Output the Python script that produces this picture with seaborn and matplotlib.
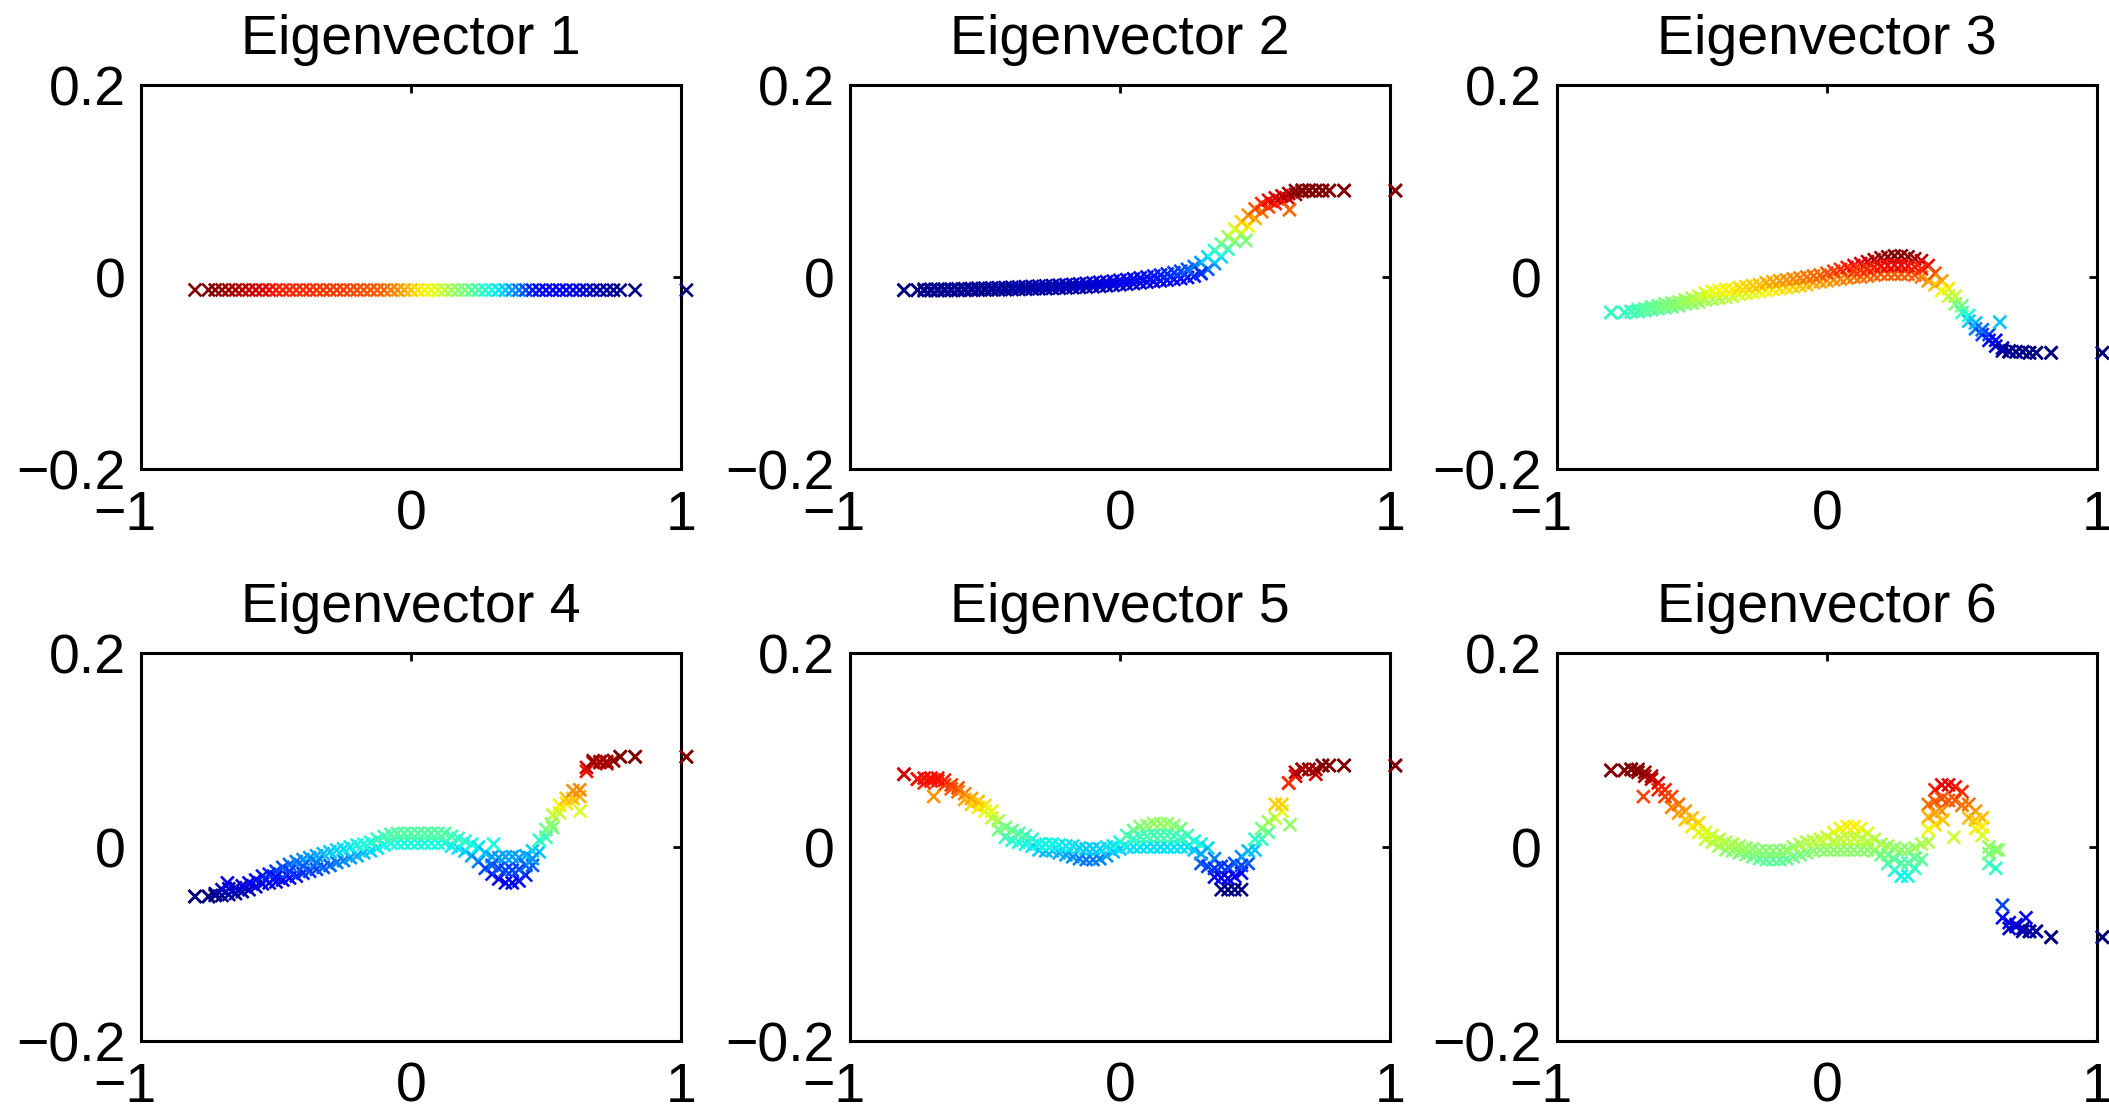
import matplotlib
matplotlib.use("Agg")
import matplotlib.pyplot as plt
import matplotlib.transforms as mtransforms
import pandas as pd
import seaborn as sns

# Sample positions along the first coordinate (shared by all six panels)
sample_x = [
    -0.80, -0.75, -0.725, -0.70, -0.675, -0.65, -0.625, -0.60, -0.575, -0.55,
    -0.525, -0.50, -0.475, -0.45, -0.425, -0.40, -0.375, -0.35, -0.325, -0.30,
    -0.275, -0.25, -0.225, -0.20, -0.175, -0.15, -0.125, -0.10, -0.075, -0.05,
    -0.025, 0.00, 0.025, 0.05, 0.075, 0.10, 0.125, 0.15, 0.175, 0.20,
    0.225, 0.25, 0.275, 0.30, 0.325, 0.35, 0.375, 0.40, 0.425, 0.45,
    0.475, 0.50, 0.525, 0.55, 0.575, 0.60, 0.625, 0.65, 0.675, 0.70,
    0.725, 0.75, 0.775, 0.83, 1.02,
]

# Eigenvector 1: almost constant
ev1 = [
    -0.013500, -0.013500, -0.013502, -0.013504, -0.013506, -0.013508, -0.013510, -0.013512, -0.013514, -0.013516,
    -0.013520, -0.013524, -0.013526, -0.013526, -0.013528, -0.013528, -0.013528, -0.013530, -0.013530, -0.013530,
    -0.013532, -0.013532, -0.013534, -0.013534, -0.013536, -0.013536, -0.013538, -0.013540, -0.013544, -0.013548,
    -0.013554, -0.013560, -0.013566, -0.013570, -0.013574, -0.013576, -0.013584, -0.013590, -0.013596, -0.013600,
    -0.013608, -0.013614, -0.013620, -0.013624, -0.013630, -0.013636, -0.013644, -0.013650, -0.013660, -0.013670,
    -0.013674, -0.013676, -0.013678, -0.013678, -0.013680, -0.013682, -0.013684, -0.013686, -0.013690, -0.013692,
    -0.013694, -0.013696, -0.013698, -0.013700, -0.013700,
]

# Eigenvector 2: lower / upper edge of the point band
ev2_lo = [
    -0.0137, -0.0137, -0.0142, -0.0142, -0.0142, -0.0142, -0.0141, -0.0140, -0.0139, -0.0138,
    -0.0137, -0.0136, -0.0135, -0.0134, -0.0133, -0.0131, -0.0129, -0.0127, -0.0125, -0.0123,
    -0.0121, -0.0119, -0.0117, -0.0114, -0.0111, -0.0108, -0.0105, -0.0101, -0.0097, -0.0092,
    -0.0087, -0.0081, -0.0075, -0.0068, -0.0061, -0.0054, -0.0047, -0.0040, -0.0033, -0.0025,
    -0.0016, -0.0005, 0.0010, 0.0035, 0.0080, 0.0140, 0.0210, 0.0290, 0.0370, 0.0450,
    0.0530, 0.0610, 0.0680, 0.0730, 0.0765, 0.0790, 0.0815, 0.0860, 0.0890, 0.0895,
    0.0900, 0.0900, 0.0900, 0.0900, 0.0900,
]
ev2_hi = [
    -0.0137, -0.0137, -0.0128, -0.0128, -0.0127, -0.0126, -0.0125, -0.0124, -0.0122, -0.0120,
    -0.0118, -0.0116, -0.0114, -0.0112, -0.0110, -0.0107, -0.0104, -0.0101, -0.0098, -0.0095,
    -0.0092, -0.0089, -0.0085, -0.0081, -0.0077, -0.0072, -0.0067, -0.0061, -0.0055, -0.0049,
    -0.0042, -0.0035, -0.0027, -0.0019, -0.0010, 0.0000, 0.0010, 0.0020, 0.0032, 0.0045,
    0.0060, 0.0080, 0.0110, 0.0150, 0.0210, 0.0275, 0.0345, 0.0420, 0.0500, 0.0575,
    0.0645, 0.0710, 0.0765, 0.0800, 0.0825, 0.0845, 0.0870, 0.0900, 0.0905, 0.0905,
    0.0900, 0.0900, 0.0900, 0.0900, 0.0900,
]
ev2_extra_x = [0.628, 0.466, 0.300]
ev2_extra_y = [0.070, 0.038, 0.004]

# Eigenvector 3
ev3_lo = [
    -0.037, -0.037, -0.036, -0.036, -0.035, -0.034, -0.033, -0.032, -0.031, -0.030,
    -0.028, -0.027, -0.026, -0.024, -0.023, -0.022, -0.021, -0.020, -0.018, -0.017,
    -0.016, -0.015, -0.014, -0.013, -0.012, -0.011, -0.010, -0.009, -0.008, -0.006,
    -0.005, -0.004, -0.003, -0.002, -0.001, 0.000, 0.000, 0.001, 0.002, 0.003,
    0.003, 0.003, 0.003, 0.003, 0.002, 0.000, -0.004, -0.008, -0.014, -0.020,
    -0.028, -0.037, -0.046, -0.054, -0.060, -0.066, -0.072, -0.077, -0.078, -0.078,
    -0.078, -0.079, -0.079, -0.079, -0.079,
]
ev3_hi = [
    -0.037, -0.037, -0.036, -0.034, -0.033, -0.031, -0.030, -0.028, -0.027, -0.026,
    -0.024, -0.022, -0.020, -0.017, -0.015, -0.014, -0.013, -0.013, -0.011, -0.010,
    -0.009, -0.008, -0.006, -0.005, -0.004, -0.003, -0.002, -0.001, 0.000, 0.001,
    0.002, 0.004, 0.006, 0.008, 0.010, 0.012, 0.014, 0.016, 0.018, 0.020,
    0.021, 0.022, 0.022, 0.021, 0.019, 0.017, 0.012, 0.004, -0.004, -0.012,
    -0.020, -0.030, -0.040, -0.048, -0.055, -0.060, -0.066, -0.074, -0.077, -0.078,
    -0.078, -0.079, -0.079, -0.079, -0.079,
]
ev3_extra_x = [0.10, 0.125, 0.15, 0.175, 0.20, 0.225, 0.25, 0.275, 0.30, 0.325, 0.35, 0.64]
ev3_extra_y = [0.006, 0.007, 0.0085, 0.010, 0.0115, 0.012, 0.0125, 0.0125, 0.0115, 0.0105, 0.0085, -0.047]

# Eigenvector 4
ev4_lo = [
    -0.051, -0.051, -0.050, -0.050, -0.049, -0.048, -0.046, -0.044, -0.041, -0.038,
    -0.037, -0.036, -0.034, -0.032, -0.030, -0.027, -0.025, -0.023, -0.021, -0.019,
    -0.016, -0.014, -0.011, -0.009, -0.006, -0.004, -0.001, 0.002, 0.004, 0.004,
    0.004, 0.004, 0.004, 0.004, 0.004, 0.004, 0.004, 0.001, -0.001, -0.004,
    -0.009, -0.015, -0.022, -0.028, -0.033, -0.037, -0.037, -0.035, -0.029, -0.019,
    -0.005, 0.010, 0.020, 0.035, 0.045, 0.050, 0.052, 0.078, 0.087, 0.087,
    0.086, 0.089, 0.093, 0.093, 0.093,
]
ev4_hi = [
    -0.051, -0.051, -0.048, -0.044, -0.043, -0.042, -0.040, -0.037, -0.034, -0.030,
    -0.028, -0.025, -0.021, -0.018, -0.015, -0.013, -0.011, -0.009, -0.007, -0.005,
    -0.003, -0.002, 0.000, 0.002, 0.003, 0.005, 0.008, 0.011, 0.013, 0.014,
    0.014, 0.014, 0.014, 0.014, 0.014, 0.014, 0.014, 0.011, 0.009, 0.006,
    0.003, 0.000, -0.006, -0.010, -0.011, -0.010, -0.010, -0.011, -0.009, -0.004,
    0.007, 0.018, 0.033, 0.043, 0.050, 0.058, 0.059, 0.082, 0.089, 0.088,
    0.088, 0.089, 0.093, 0.093, 0.093,
]
ev4_extra_x = [-0.68, -0.50, -0.45, -0.40, -0.35, 0.30, 0.325, 0.35, 0.375, 0.40, 0.425, 0.45, 0.306, 0.52, 0.626]
ev4_extra_y = [-0.037, -0.031, -0.025, -0.020, -0.016, -0.019, -0.022, -0.024, -0.024, -0.023, -0.019, -0.012, 0.003, 0.024, 0.037]

# Eigenvector 5
ev5_lo = [
    0.075, 0.070, 0.066, 0.068, 0.068, 0.064, 0.060, 0.057, 0.049, 0.044,
    0.041, 0.037, 0.030, 0.018, 0.010, 0.007, 0.005, 0.003, 0.001, -0.003,
    -0.004, -0.004, -0.006, -0.008, -0.010, -0.012, -0.013, -0.013, -0.012, -0.009,
    -0.005, -0.002, 0.000, 0.000, 0.000, 0.000, 0.000, 0.000, 0.000, 0.000,
    0.000, 0.000, -0.003, -0.017, -0.020, -0.031, -0.044, -0.044, -0.044, -0.044,
    -0.017, -0.003, 0.008, 0.015, 0.030, 0.037, 0.066, 0.073, 0.080, 0.080,
    0.075, 0.084, 0.084, 0.084, 0.084,
]
ev5_hi = [
    0.075, 0.070, 0.071, 0.071, 0.071, 0.069, 0.064, 0.061, 0.055, 0.050,
    0.047, 0.043, 0.037, 0.027, 0.020, 0.017, 0.014, 0.012, 0.008, 0.003,
    0.003, 0.003, 0.002, 0.001, 0.001, -0.001, -0.002, -0.002, -0.002, 0.000,
    0.001, 0.005, 0.012, 0.017, 0.021, 0.022, 0.024, 0.024, 0.024, 0.022,
    0.019, 0.012, 0.006, 0.003, -0.001, -0.012, -0.020, -0.021, -0.017, -0.010,
    -0.004, 0.008, 0.019, 0.026, 0.044, 0.044, 0.066, 0.077, 0.080, 0.080,
    0.080, 0.084, 0.084, 0.084, 0.084,
]
ev5_extra_x = [-0.69, 0.05, 0.075, 0.10, 0.125, 0.15, 0.175, 0.20, 0.225, 0.30, 0.35, 0.375, 0.40, 0.425, 0.45, 0.45, 0.63]
ev5_extra_y = [0.052, 0.0085, 0.0105, 0.011, 0.012, 0.012, 0.012, 0.011, 0.0095, -0.007, -0.022, -0.032, -0.0325, -0.0305, -0.027, -0.019, 0.023]

# Eigenvector 6
ev6_lo = [
    0.079, 0.079, 0.080, 0.077, 0.073, 0.070, 0.059, 0.052, 0.041, 0.035,
    0.028, 0.021, 0.015, 0.008, 0.005, 0.001, -0.003, -0.004, -0.006, -0.008,
    -0.010, -0.012, -0.013, -0.013, -0.013, -0.012, -0.010, -0.008, -0.006, -0.004,
    -0.003, -0.003, -0.003, -0.003, -0.003, -0.003, -0.003, -0.003, -0.004, -0.008,
    -0.017, -0.024, -0.030, -0.030, -0.022, -0.013, 0.005, 0.023, 0.037, 0.048,
    0.048, 0.043, 0.030, 0.019, 0.012, -0.017, -0.022, -0.073, -0.084, -0.082,
    -0.087, -0.087, -0.087, -0.093, -0.093,
]
ev6_hi = [
    0.079, 0.079, 0.080, 0.080, 0.077, 0.073, 0.066, 0.059, 0.052, 0.044,
    0.037, 0.030, 0.025, 0.015, 0.012, 0.008, 0.005, 0.003, 0.001, -0.001,
    -0.002, -0.004, -0.004, -0.004, -0.004, -0.003, 0.000, 0.003, 0.005, 0.006,
    0.008, 0.010, 0.015, 0.019, 0.021, 0.021, 0.019, 0.014, 0.008, 0.003,
    0.001, -0.001, -0.003, -0.003, -0.001, 0.003, 0.044, 0.059, 0.064, 0.064,
    0.062, 0.057, 0.044, 0.037, 0.030, 0.000, -0.003, -0.060, -0.078, -0.080,
    -0.084, -0.087, -0.087, -0.093, -0.093,
]
ev6_extra_x = [-0.68, 0.025, 0.05, 0.075, 0.10, 0.125, 0.15, 0.225, 0.25, 0.275, 0.30, 0.325,
               0.375, 0.375, 0.40, 0.40, 0.425, 0.43, 0.47, 0.55, 0.575, 0.60, 0.635, 0.737]
ev6_extra_y = [0.052, 0.006, 0.008, 0.009, 0.009, 0.008, 0.0055, -0.008, -0.0125, -0.0165, -0.0165, -0.0115,
               0.018, 0.031, 0.035, 0.047, 0.050, 0.028, 0.010, 0.028, 0.021, -0.007, -0.003, -0.073]

titles = ["Eigenvector 1", "Eigenvector 2", "Eigenvector 3",
          "Eigenvector 4", "Eigenvector 5", "Eigenvector 6"]
bands = [
    (ev1, None, [], []),
    (ev2_lo, ev2_hi, ev2_extra_x, ev2_extra_y),
    (ev3_lo, ev3_hi, ev3_extra_x, ev3_extra_y),
    (ev4_lo, ev4_hi, ev4_extra_x, ev4_extra_y),
    (ev5_lo, ev5_hi, ev5_extra_x, ev5_extra_y),
    (ev6_lo, ev6_hi, ev6_extra_x, ev6_extra_y),
]

x_ticks = [-1, 0, 1]
x_labels = ["\u22121", "0", "1"]
y_ticks = [-0.2, 0, 0.2]
y_labels = ["\u22120.2", "0", "0.2"]

sns.set_theme(style="white")
plt.rcParams["font.family"] = ["Liberation Sans", "DejaVu Sans"]
jet = matplotlib.colormaps["jet"]

W, H = 2109, 1107
fig = plt.figure(figsize=(W / 100, H / 100), dpi=100)
fig.patch.set_facecolor("white")

col_left = [141, 850, 1557]
row_box = [(85, 469), (653, 1041)]
ax_w = 540

for i, title in enumerate(titles):
    r, c = divmod(i, 3)
    top, bottom = row_box[r]
    ax = fig.add_axes([col_left[c] / W, 1 - bottom / H, ax_w / W, (bottom - top) / H])

    lo, hi, ex_x, ex_y = bands[i]
    xs = list(sample_x)
    ys = list(lo)
    if hi is not None:
        xs += list(sample_x)
        ys += list(hi)
    xs += list(ex_x)
    ys += list(ex_y)
    df = pd.DataFrame({"x": xs, "y": ys})

    sns.scatterplot(
        data=df, x="x", y="y", hue="y", palette=jet,
        hue_norm=(df["y"].min(), df["y"].max()),
        marker="x", s=85, linewidth=1.9, legend=False,
        ax=ax, clip_on=False, zorder=3,
    )

    ax.set_xlim(-1, 1)
    ax.set_ylim(-0.2, 0.2)
    ax.set_xlabel("")
    ax.set_ylabel("")
    ax.set_xticks(x_ticks)
    ax.set_xticklabels(x_labels)
    ax.set_yticks(y_ticks)
    ax.set_yticklabels(y_labels)
    ax.tick_params(axis="both", direction="in", length=6, width=2,
                   top=True, right=True, labelsize=40, colors="black")
    ax.tick_params(axis="x", pad=15)
    ax.tick_params(axis="y", pad=11)
    for sp in ax.spines.values():
        sp.set_linewidth(2.2)
        sp.set_color("black")
        sp.set_zorder(2)
    ax.set_facecolor("white")
    ax.set_title(title, fontsize=40, pad=22, color="black")

    # the "1" of "−1" sits on its tick, with the minus sign hanging to the left
    lab = ax.xaxis.get_major_ticks()[0].label1
    lab.set_transform(lab.get_transform() +
                      mtransforms.ScaledTranslation(-0.16, 0, fig.dpi_scale_trans))

fig.savefig("out.png", dpi=100, facecolor="white")
